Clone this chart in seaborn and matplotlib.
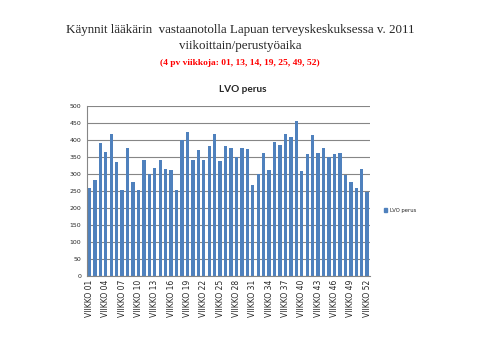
import matplotlib
matplotlib.use("Agg")
import matplotlib.pyplot as plt
import seaborn as sns
import pandas as pd
from matplotlib.patches import Patch

# weekly visits, weeks 01..52
weeks = ["VIIKKO %02d" % w for w in range(1, 53)]
visits = [257, 283, 391, 365, 418, 336, 251, 377, 277, 251,
          342, 300, 318, 342, 315, 312, 251, 399, 424, 342,
          371, 342, 383, 418, 339, 383, 377, 350, 377, 374,
          268, 300, 362, 312, 394, 386, 418, 409, 456, 309,
          359, 415, 362, 377, 350, 359, 362, 295, 277, 259,
          315, 245]
yticks = list(range(0, 501, 50))

df = pd.DataFrame({"week": weeks, "visits": visits})

sns.set_style("white")
bar_color = "#4F81BD"
grid_color = "#868686"

fig = plt.figure(figsize=(4.8, 3.6), dpi=100)
ax = fig.add_axes([0.1806, 0.2347, 0.590, 0.471])

sns.barplot(data=df, x="week", y="visits", color=bar_color, width=0.62,
            saturation=1, linewidth=0, ax=ax)

ax.set_ylim(0, 500)
ax.set_xlim(-0.5, len(weeks) - 0.5)
ax.set_yticks(yticks)
ax.set_yticklabels([str(t) for t in yticks], fontsize=4.5)
ax.yaxis.grid(True, color=grid_color, linewidth=0.8)
ax.set_axisbelow(True)
ax.tick_params(axis="y", length=2, width=0.6, color=grid_color, pad=2)

xt = list(range(0, len(weeks), 3))
ax.set_xticks(xt)
ax.set_xticklabels([weeks[i] for i in xt], rotation=90, fontsize=5.5)
ax.tick_params(axis="x", length=0, pad=3)

for s in ["top", "right"]:
    ax.spines[s].set_visible(False)
for s in ["left", "bottom"]:
    ax.spines[s].set_color(grid_color)
    ax.spines[s].set_linewidth(0.8)
ax.set_xlabel("")
ax.set_ylabel("")

fig.legend(handles=[Patch(color=bar_color, label="LVO perus")],
           loc="center left", bbox_to_anchor=(0.79, 0.415), frameon=False,
           fontsize=3.8, handlelength=0.6, handleheight=0.8, handletextpad=0.5)

fig.text(0.5, 0.918, "Käynnit lääkärin  vastaanotolla Lapuan terveyskeskuksessa v. 2011",
         ha="center", va="center", family="Liberation Serif", fontsize=9.4)
fig.text(0.5, 0.873, "viikoittain/perustyöaika",
         ha="center", va="center", family="Liberation Serif", fontsize=9.4)
fig.text(0.5, 0.826, "(4 pv viikkoja: 01, 13, 14, 19, 25, 49, 52)",
         ha="center", va="center", family="Liberation Serif", fontsize=6.8,
         color="#FF0000", fontweight="bold")
fig.text(0.505, 0.75, "LVO perus", ha="center", va="center",
         family="Lato", fontsize=7.2, fontweight="bold")

fig.savefig("out.png", dpi=100)
